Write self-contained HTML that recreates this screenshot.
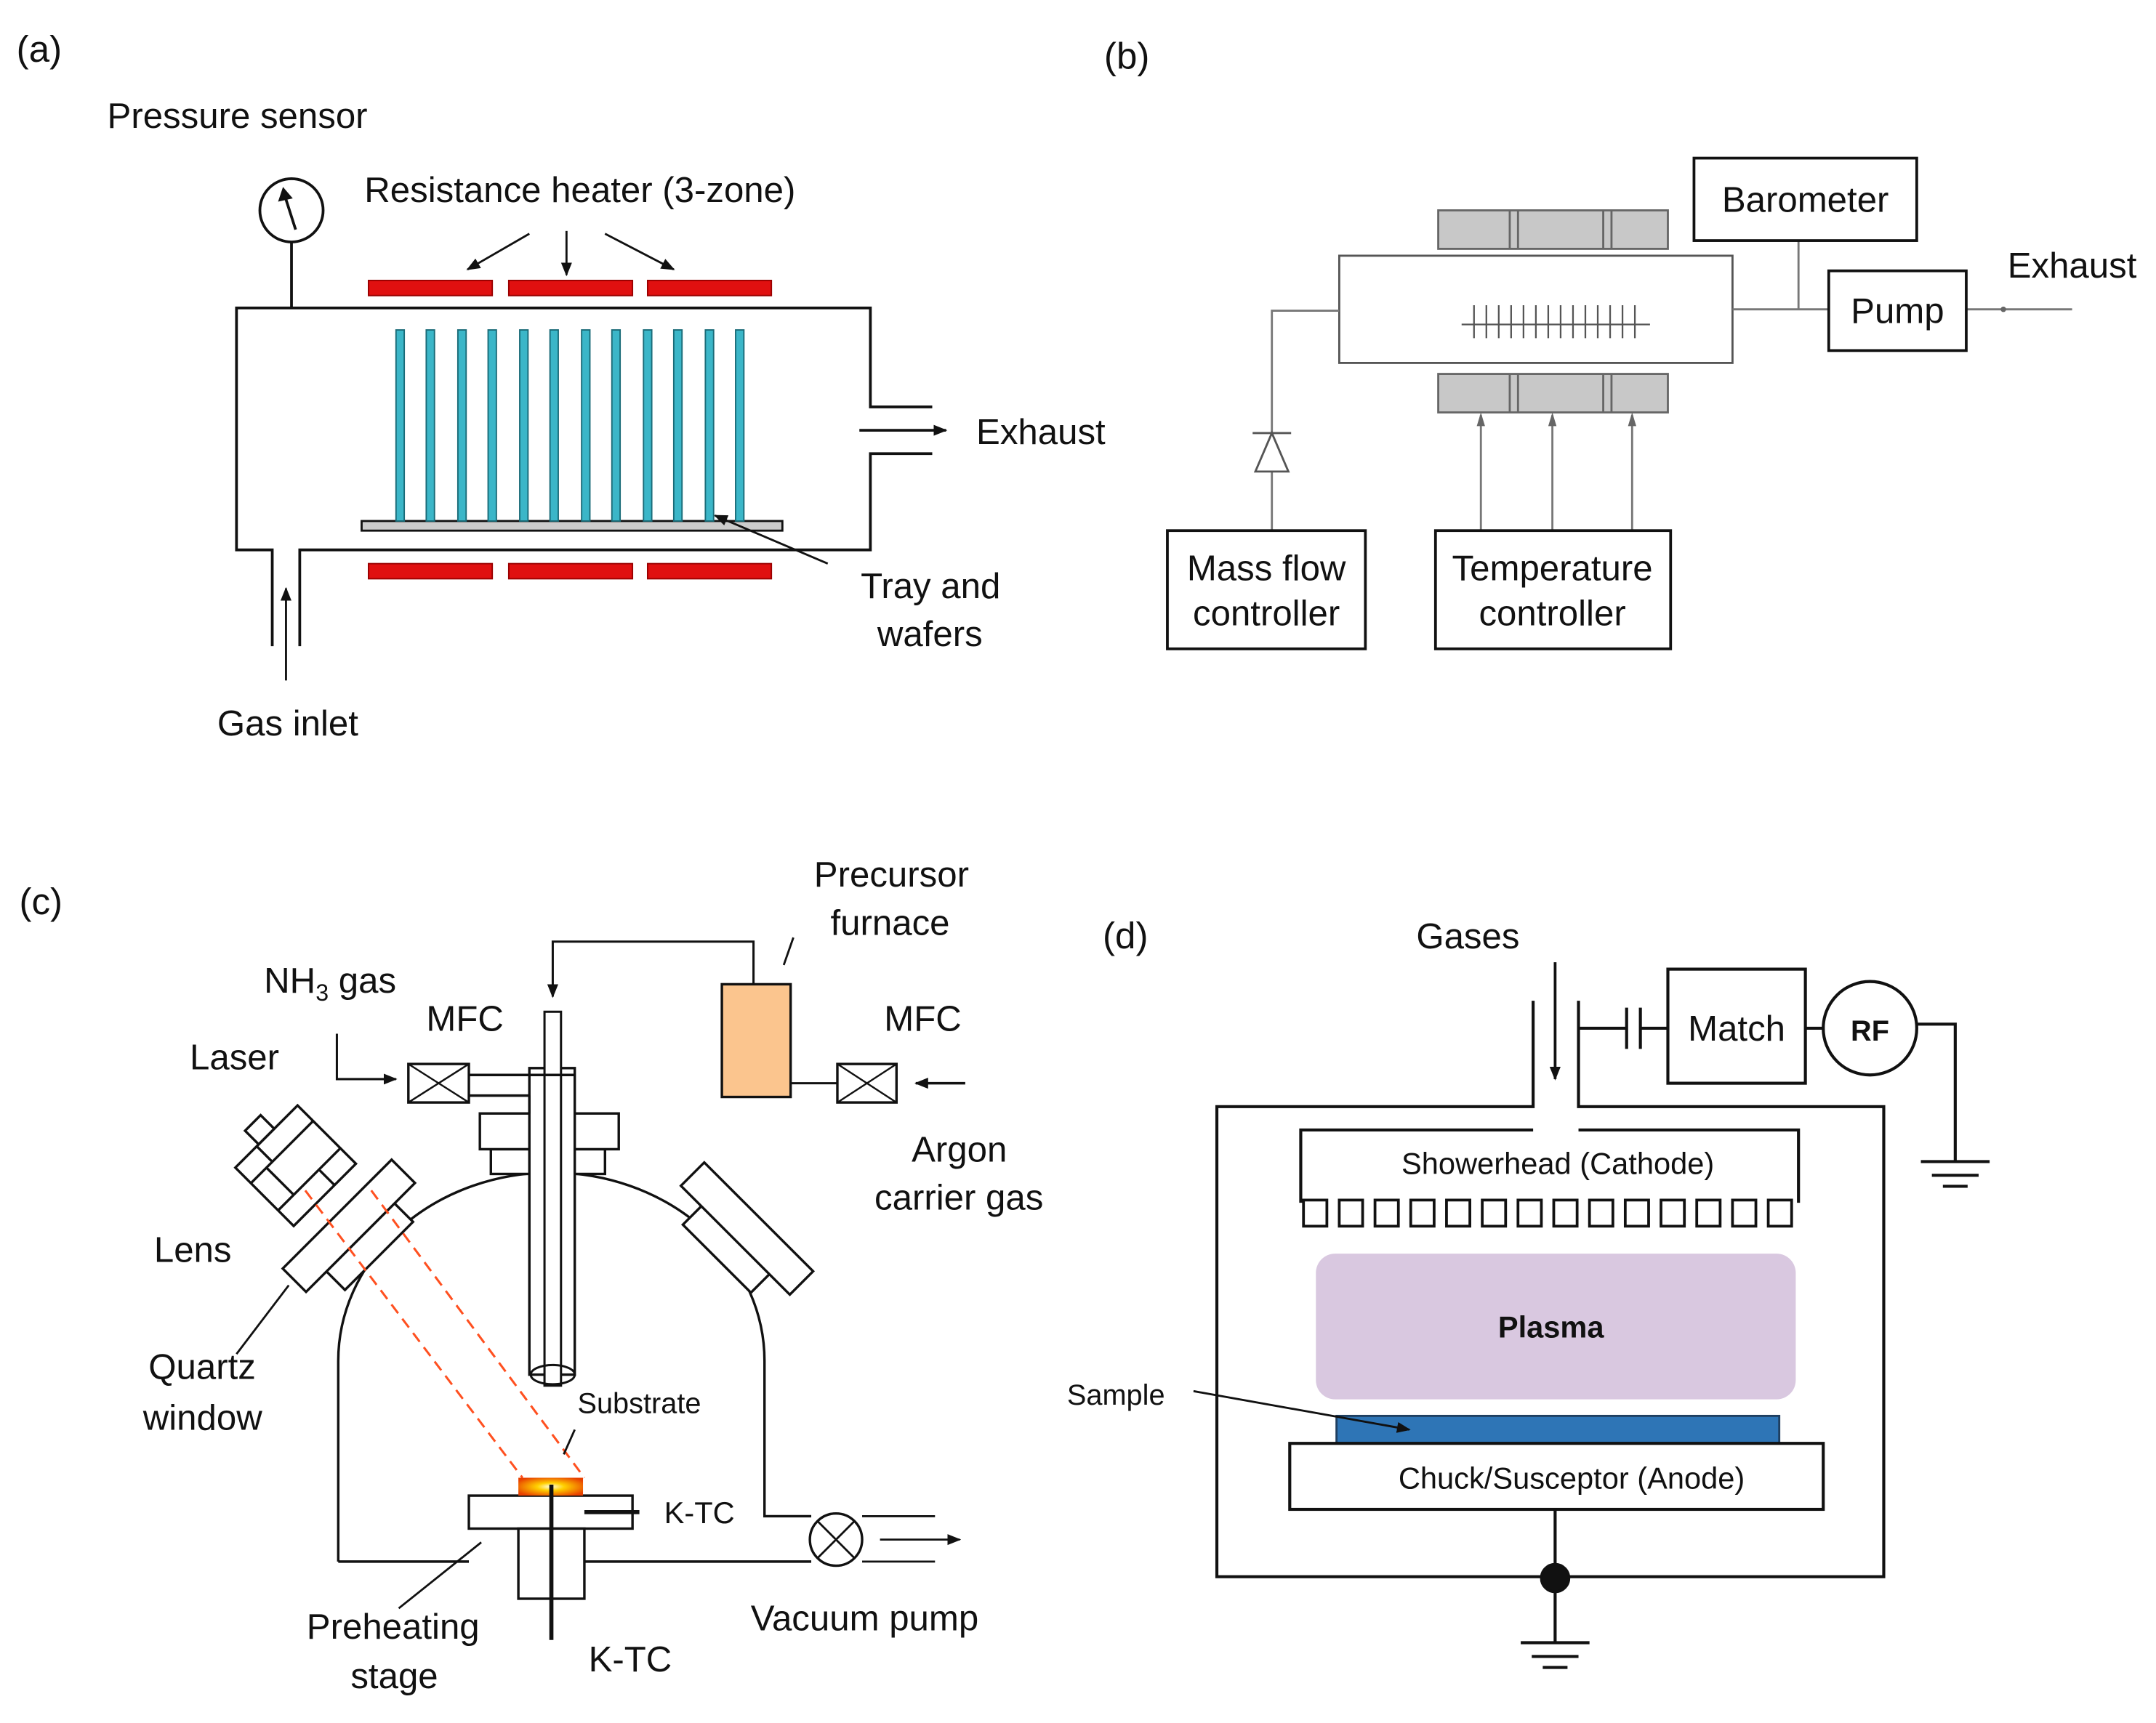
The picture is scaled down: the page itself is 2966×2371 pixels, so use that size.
<!DOCTYPE html>
<html><head><meta charset="utf-8"><style>
html,body{margin:0;padding:0;background:#fff}
svg{display:block}
text{font-family:"Liberation Sans",sans-serif;fill:#111}
</style></head><body>
<svg width="2966" height="2371" viewBox="0 0 1568 1253.4" xmlns="http://www.w3.org/2000/svg">
<defs>
<marker id="ar" markerWidth="10" markerHeight="10" refX="9" refY="5" orient="auto" markerUnits="userSpaceOnUse"><path d="M0,1 L10,5 L0,9 z" fill="#111"/></marker>
<radialGradient id="sub" cx="0.5" cy="0.5" r="0.6"><stop offset="0" stop-color="#ffffe0"/><stop offset="0.35" stop-color="#ffd000"/><stop offset="1" stop-color="#e84000"/></radialGradient>
</defs>
<g stroke="#111" stroke-width="2" fill="none">
<!-- ========== (a) ========== -->
<circle cx="212" cy="153" r="23"/>
<line x1="212" y1="176" x2="212" y2="224"/>
<line x1="215" y1="167" x2="207" y2="142" stroke-width="2"/>
<path d="M203,146 L206,137 L212,144 z" fill="#111" stroke-width="1"/>
<line x1="385" y1="170" x2="340" y2="196" marker-end="url(#ar)" stroke-width="1.5"/>
<line x1="412" y1="168" x2="412" y2="200" marker-end="url(#ar)" stroke-width="1.5"/>
<line x1="440" y1="170" x2="490" y2="196" marker-end="url(#ar)" stroke-width="1.5"/>
<path d="M198,470 L198,400 L172,400 L172,224 L633,224 L633,296 L678,296"/>
<path d="M218,470 L218,400 L633,400 L633,330 L678,330"/>
<line x1="625" y1="313" x2="688" y2="313" marker-end="url(#ar)"/>
<line x1="208" y1="495" x2="208" y2="428" marker-end="url(#ar)" stroke-width="1.5"/>
<rect x="263" y="379" width="306" height="7" fill="#ccc" stroke-width="1.5"/>
<g fill="#3bb6c8" stroke="#1a6b78" stroke-width="1">
<rect x="288" y="240" width="6" height="139"/><rect x="310" y="240" width="6" height="139"/><rect x="333" y="240" width="6" height="139"/><rect x="355" y="240" width="6" height="139"/><rect x="378" y="240" width="6" height="139"/><rect x="400" y="240" width="6" height="139"/><rect x="423" y="240" width="6" height="139"/><rect x="445" y="240" width="6" height="139"/><rect x="468" y="240" width="6" height="139"/><rect x="490" y="240" width="6" height="139"/><rect x="513" y="240" width="6" height="139"/><rect x="535" y="240" width="6" height="139"/>
</g>
<line x1="602" y1="410" x2="520" y2="375" marker-end="url(#ar)" stroke-width="1.5"/>
<g fill="#e01010" stroke="#900" stroke-width="1">
<rect x="268" y="204" width="90" height="11"/><rect x="370" y="204" width="90" height="11"/><rect x="471" y="204" width="90" height="11"/>
<rect x="268" y="410" width="90" height="11"/><rect x="370" y="410" width="90" height="11"/><rect x="471" y="410" width="90" height="11"/>
</g>
<!-- ========== (b) ========== -->
<g fill="#c8c8c8" stroke="#666" stroke-width="1.5">
<rect x="1046" y="153" width="167" height="28"/><rect x="1046" y="272" width="167" height="28"/>
</g>
<g stroke="#666" stroke-width="1.5">
<line x1="1098" y1="153" x2="1098" y2="181"/><line x1="1104" y1="153" x2="1104" y2="181"/><line x1="1166" y1="153" x2="1166" y2="181"/><line x1="1172" y1="153" x2="1172" y2="181"/>
<line x1="1098" y1="272" x2="1098" y2="300"/><line x1="1104" y1="272" x2="1104" y2="300"/><line x1="1166" y1="272" x2="1166" y2="300"/><line x1="1172" y1="272" x2="1172" y2="300"/>
</g>
<rect x="974" y="186" width="286" height="78" stroke="#555" stroke-width="1.5"/>
<g stroke="#555" stroke-width="1.2">
<line x1="1063" y1="236" x2="1200" y2="236"/>
<path d="M1072,222V246M1081,222V246M1090,222V246M1099,222V246M1108,222V246M1117,222V246M1126,222V246M1135,222V246M1144,222V246M1153,222V246M1162,222V246M1171,222V246M1180,222V246M1189,222V246"/>
</g>
<g stroke="#777" stroke-width="1.5">
<line x1="1260" y1="225" x2="1330" y2="225"/><line x1="1308" y1="175" x2="1308" y2="225"/>
<line x1="1430" y1="225" x2="1507" y2="225"/>
<path d="M974,226 L925,226 L925,386"/>
<line x1="1077" y1="386" x2="1077" y2="302"/><line x1="1129" y1="386" x2="1129" y2="302"/><line x1="1187" y1="386" x2="1187" y2="302"/>
</g>
<path d="M913,343 L937,343 L925,315 z" fill="#fff" stroke="#555" stroke-width="1.5"/>
<line x1="911" y1="315" x2="939" y2="315" stroke="#555" stroke-width="1.5"/>
<g fill="#666" stroke="none">
<path d="M1074,310 L1077,300 L1080,310z"/><path d="M1126,310 L1129,300 L1132,310z"/><path d="M1184,310 L1187,300 L1190,310z"/>
<circle cx="1457" cy="225" r="2"/>
</g>
<rect x="1232" y="115" width="162" height="60"/>
<rect x="1330" y="197" width="100" height="58"/>
<rect x="849" y="386" width="144" height="86"/>
<rect x="1044" y="386" width="171" height="86"/>
<!-- ========== (c) ========== -->
<path d="M246,1136 L246,990 A155,137 0 0 1 556,990 L556,1103 L590,1103" stroke-width="1.8"/>
<line x1="246" y1="1136" x2="341" y2="1136" stroke-width="1.8"/>
<line x1="425" y1="1136" x2="590" y2="1136" stroke-width="1.8"/>
<circle cx="608" cy="1120" r="19" fill="#fff" stroke-width="1.8"/>
<path d="M595,1107 L621,1133 M621,1107 L595,1133" stroke-width="1.5"/>
<line x1="627" y1="1103" x2="680" y2="1103" stroke-width="1.5"/>
<line x1="627" y1="1136" x2="680" y2="1136" stroke-width="1.5"/>
<line x1="640" y1="1120" x2="698" y2="1120" marker-end="url(#ar)" stroke-width="1.5"/>
<g transform="translate(253,891) rotate(-45)" stroke-width="1.8" fill="#fff">
<rect x="-35" y="10" width="70" height="22"/>
<rect x="-56" y="-11" width="112" height="24"/>
</g>
<g transform="translate(544,893) rotate(45)" stroke-width="1.8" fill="#fff">
<rect x="-35" y="10" width="70" height="22"/>
<rect x="-56" y="-11" width="112" height="24"/>
</g>
<g transform="translate(215,848) rotate(-45)" stroke-width="1.8" fill="#fff">
<rect x="-32" y="-30" width="64" height="60"/>
<path d="M-32,-14 H32 M-32,14 H32 M-10,-30 V-14 M10,14 V30 M-16,-14 V14"/>
<rect x="-8" y="-44" width="16" height="14"/>
</g>
<line x1="222" y1="866" x2="380" y2="1075" stroke="#ff5020" stroke-dasharray="8,5" stroke-width="1.6"/>
<line x1="270" y1="866" x2="425" y2="1075" stroke="#ff5020" stroke-dasharray="8,5" stroke-width="1.6"/>
<rect x="357" y="836" width="83" height="18" fill="#fff" stroke-width="1.8"/>
<rect x="349" y="810" width="101" height="26" fill="#fff" stroke-width="1.8"/>
<rect x="385" y="777" width="33" height="223" fill="#fff" stroke-width="1.8"/>
<rect x="396" y="736" width="12" height="272" fill="#fff" stroke-width="1.6"/>
<ellipse cx="402" cy="1000" rx="16" ry="7" fill="none" stroke-width="1.6"/>
<path d="M341,782 L418,782 M341,797 L385,797 M385,797 L385,810" stroke-width="1.8"/>
<path d="M548,716 L548,685 L402,685 L402,725" stroke-width="1.6" marker-end="url(#ar)"/>
<rect x="525" y="716" width="50" height="82" fill="#fbc58e" stroke-width="1.8"/>
<line x1="570" y1="702" x2="577" y2="682" stroke-width="1.5"/>
<line x1="575" y1="788" x2="609" y2="788" stroke-width="1.6"/>
<rect x="609" y="774" width="43" height="28" stroke-width="1.8"/>
<path d="M609,774 L652,802 M652,774 L609,802" stroke-width="1.3"/>
<line x1="702" y1="788" x2="666" y2="788" marker-end="url(#ar)" stroke-width="1.8"/>
<rect x="297" y="774" width="44" height="28" stroke-width="1.8"/>
<path d="M297,774 L341,802 M341,774 L297,802" stroke-width="1.3"/>
<path d="M245,752 L245,785 L288,785" marker-end="url(#ar)" stroke-width="1.6"/>
<line x1="210" y1="935" x2="172" y2="985" stroke-width="1.5"/>
<line x1="418" y1="1040" x2="410" y2="1058" stroke-width="1.5"/>
<rect x="341" y="1088" width="119" height="24" fill="#fff" stroke-width="1.8"/>
<rect x="377" y="1112" width="48" height="51" fill="#fff" stroke-width="1.8"/>
<rect x="377" y="1075" width="47" height="13" fill="url(#sub)" stroke="none"/>
<line x1="401" y1="1080" x2="401" y2="1193" stroke-width="3"/>
<line x1="425" y1="1100" x2="465" y2="1100" stroke-width="3"/>
<line x1="290" y1="1170" x2="350" y2="1122" stroke-width="1.5"/>
<!-- ========== (d) ========== -->
<path d="M1115,728 L1115,805 L885,805 L885,1147 L1370,1147 L1370,805 L1148,805 L1148,728" stroke-width="2.2"/>
<line x1="1131" y1="700" x2="1131" y2="785" marker-end="url(#ar)" stroke-width="2"/>
<path d="M1115,822 L946,822 L946,875 M1148,822 L1308,822 L1308,875" stroke-width="2.2"/>
<g stroke-width="2">
<rect x="948" y="873" width="17" height="19"/><rect x="974" y="873" width="17" height="19"/><rect x="1000" y="873" width="17" height="19"/><rect x="1026" y="873" width="17" height="19"/><rect x="1052" y="873" width="17" height="19"/><rect x="1078" y="873" width="17" height="19"/><rect x="1104" y="873" width="17" height="19"/><rect x="1130" y="873" width="17" height="19"/><rect x="1156" y="873" width="17" height="19"/><rect x="1182" y="873" width="17" height="19"/><rect x="1208" y="873" width="17" height="19"/><rect x="1234" y="873" width="17" height="19"/><rect x="1260" y="873" width="17" height="19"/><rect x="1286" y="873" width="17" height="19"/>
</g>
<path d="M1148,748 L1183,748 M1183,733 L1183,763 M1193,733 L1193,763 M1193,748 L1213,748" stroke-width="2.2"/>
<rect x="1213" y="705" width="100" height="83" stroke-width="2.2"/>
<line x1="1313" y1="748" x2="1327" y2="748" stroke-width="2.2"/>
<circle cx="1360" cy="748" r="34" stroke-width="2.2"/>
<path d="M1394,745 L1422,745 L1422,845 M1397,845 L1447,845 M1405,855 L1439,855 M1413,863 L1431,863" stroke-width="2.2"/>
<rect x="957" y="912" width="349" height="106" rx="14" fill="#d9c8e0" stroke="none"/>
<rect x="972" y="1030" width="322" height="20" fill="#2e75b6" stroke="#1f3f60" stroke-width="1.5"/>
<rect x="938" y="1050" width="388" height="48" fill="#fff" stroke-width="2.2"/>
<path d="M1131,1098 L1131,1195 M1106,1195 L1156,1195 M1114,1205 L1148,1205 M1122,1213 L1140,1213" stroke-width="2.2"/>
<circle cx="1131" cy="1148" r="10" fill="#111"/>
<line x1="868" y1="1012" x2="1025" y2="1040" marker-end="url(#ar)" stroke-width="1.5"/>
</g>
<g font-size="27">
<text x="12" y="45">(a)</text>
<text x="803" y="50">(b)</text>
<text x="14" y="665">(c)</text>
<text x="802" y="690">(d)</text>
</g>
<g font-size="26">
<text x="78" y="93">Pressure sensor</text>
<text x="265" y="147">Resistance heater (3-zone)</text>
<text x="710" y="323">Exhaust</text>
<text x="626" y="435">Tray and</text>
<text x="638" y="470">wafers</text>
<text x="158" y="535">Gas inlet</text>
<text x="1313" y="154" text-anchor="middle">Barometer</text>
<text x="1380" y="235" text-anchor="middle">Pump</text>
<text x="1460" y="202">Exhaust</text>
<text x="921" y="422" text-anchor="middle">Mass flow</text>
<text x="921" y="455" text-anchor="middle">controller</text>
<text x="1129" y="422" text-anchor="middle">Temperature</text>
<text x="1129" y="455" text-anchor="middle">controller</text>
<text x="592" y="645">Precursor</text>
<text x="604" y="680">furnace</text>
<text x="192" y="722">NH<tspan font-size="17" dy="6">3</tspan><tspan dy="-6"> gas</tspan></text>
<text x="310" y="750">MFC</text>
<text x="643" y="750">MFC</text>
<text x="138" y="778">Laser</text>
<text x="663" y="845">Argon</text>
<text x="636" y="880">carrier gas</text>
<text x="112" y="918">Lens</text>
<text x="108" y="1003">Quartz</text>
<text x="104" y="1040">window</text>
<text x="223" y="1192">Preheating</text>
<text x="255" y="1228">stage</text>
<text x="428" y="1216">K-TC</text>
<text x="546" y="1186">Vacuum pump</text>
<text x="1030" y="690">Gases</text>
<text x="1263" y="757" text-anchor="middle">Match</text>
</g>
<text x="420" y="1028" font-size="21">Substrate</text>
<text x="483" y="1108" font-size="22">K-TC</text>
<text x="1360" y="757" font-size="21" text-anchor="middle" fill="#555" font-weight="bold">RF</text>
<text x="1133" y="854" font-size="22" text-anchor="middle">Showerhead (Cathode)</text>
<text x="1128" y="973" font-size="22" text-anchor="middle" fill="#3a3040" font-weight="bold">Plasma</text>
<text x="1143" y="1083" font-size="22" text-anchor="middle">Chuck/Susceptor (Anode)</text>
<text x="776" y="1022" font-size="21">Sample</text>
</svg>
</body></html>
